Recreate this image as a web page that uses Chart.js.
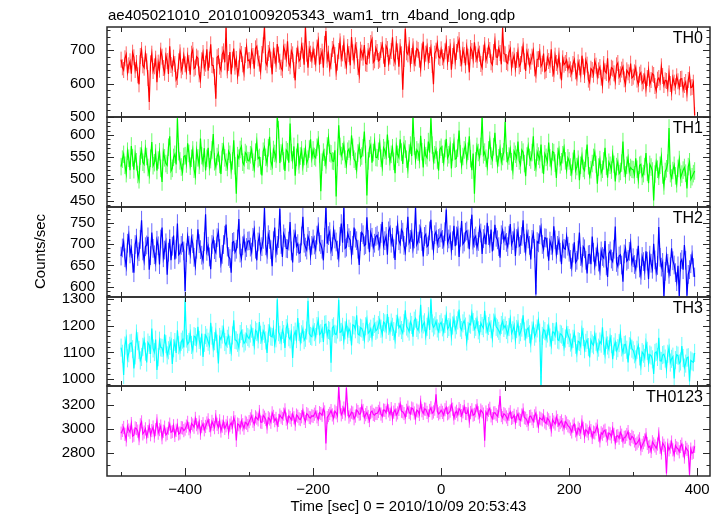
<!DOCTYPE html>
<html>
<head>
<meta charset="utf-8">
<script src="https://cdn.jsdelivr.net/npm/chart.js@4.4.0/dist/chart.umd.min.js"></script>
<style>
  body { margin: 0; background: #fff; }
  #wrap { position: relative; width: 723px; height: 516px; overflow: hidden; background: #fff; }
  #wrap canvas { position: absolute; left: 0; }
</style>
</head>
<body>
<div id="wrap"></div>
<script>
// light curve, 2 s bins starting at t = -500 s
const tStart = -500, tBin = 2;

const th0 = [
  672,649, 641,676, 688,634, 655,667, 630,693, 679,641, 662,625, 598,683, 701,655, 648,690, 667,617, 545,661, 690,638, 652,675, 604,663, 642,699, 681,647, 633,684, 668,629, 712,656, 645,678, 659,612, 620,667, 694,640, 651,684,
  658,637, 684,662, 627,690, 701,645, 649,681, 676,628, 611,670, 692,647, 660,703, 639,672, 718,656, 654,620, 555,679, 683,651, 641,688, 697,664, 768,640, 662,695, 628,672, 705,651, 674,623, 646,699, 689,658, 633,686, 711,669,
  671,652, 698,683, 645,706, 712,676, 660,637, 689,715, 772,664, 655,692, 703,672, 628,701, 684,659, 719,687, 666,648, 641,709, 696,675, 727,662, 652,698, 688,641, 610,684, 705,668, 674,715, 699,657, 771,690, 648,704, 690,671,
  702,681, 661,708, 729,657, 683,696, 648,719, 758,672, 690,645, 667,704, 714,686, 635,663, 698,727, 675,691, 721,669, 652,710, 689,655, 740,694, 668,715, 701,650, 626,702, 693,678, 716,661, 659,698, 684,722, 733,664, 670,707,
  695,668, 672,701, 718,684, 650,713, 704,662, 681,698, 739,676, 664,719, 697,651, 710,688, 582,674, 765,694, 688,716, 659,683, 712,661, 676,705, 701,672, 645,697, 726,664, 690,711, 668,686, 707,656, 598,690, 699,720, 681,677,
  703,679, 668,697, 721,665, 689,710, 642,683, 712,667, 695,718, 731,676, 660,702, 686,655, 709,681, 634,707, 698,672, 724,688, 671,702, 690,659, 648,693, 716,671, 684,712, 701,664, 657,695, 727,680, 679,706, 692,658, 768,690,
  688,665, 661,693, 704,648, 672,684, 645,671, 697,652, 659,688, 713,667, 638,696, 681,654, 666,681, 699,646, 627,673, 674,695, 652,660, 690,637, 641,679, 668,656, 703,645, 629,684, 662,651, 684,639, 610,676, 657,662, 671,643,
  655,643, 631,659, 672,637, 618,664, 649,628, 684,651, 626,670, 657,612, 603,645, 641,627, 668,654, 622,640, 650,618, 595,659, 637,632, 676,609, 619,648, 645,631, 607,655, 662,620, 628,642, 651,613, 598,640, 634,625, 660,617,
  621,634, 648,612, 598,627, 633,601, 607,624, 585,617, 642,598, 611,630, 626,593, 579,612, 617,604, 652,623, 596,610, 608,586, 631,599, 574,618, 603,592, 622,607, 589,614, 615,582, 596,605, 571,611, 628,588, 590,603, 505
];
const th1 = [
  528,545, 556,531, 512,563, 547,520, 575,548, 521,557, 539,510, 498,552, 566,538, 533,569, 551,526, 509,547, 584,530, 537,559, 519,543, 562,524, 493,561, 548,535, 531,572, 597,518, 524,549, 556,533, 638,562, 541,527, 515,551,
  553,534, 581,558, 529,547, 566,522, 507,565, 548,531, 592,553, 536,570, 519,547, 571,528, 544,566, 602,539, 527,551, 559,533, 511,562, 576,548, 538,526, 563,556, 520,541, 588,530, 466,553, 547,567, 574,538, 532,560, 556,542,
  541,555, 567,538, 523,561, 584,546, 549,530, 508,563, 572,549, 535,571, 596,540, 529,567, 558,545, 641,612, 536,559, 574,541, 518,566, 562,537, 626,560, 543,574, 507,549, 581,532, 552,566, 529,551, 569,536, 545,568, 590,547,
  566,551, 548,572, 589,557, 472,538, 561,549, 532,575, 594,559, 557,541, 540,565, 460,549, 622,574, 553,562, 578,545, 531,563, 568,551, 599,572, 545,540, 521,559, 576,548, 552,571, 608,556, 462,541, 569,577, 537,560, 584,549,
  548,563, 582,547, 527,571, 565,552, 601,568, 539,556, 571,540, 513,574, 556,549, 590,561, 534,578, 568,545, 522,559, 577,552, 640,575, 543,566, 561,544, 598,562, 526,571, 553,548, 585,560, 638,577, 541,555, 566,543, 519,567,
  572,556, 538,569, 591,548, 555,575, 524,561, 583,545, 547,570, 610,557, 531,551, 566,576, 542,563, 597,546, 520,558, 466,541, 574,560, 549,574, 642,555, 561,547, 528,566, 588,552, 544,573, 605,559, 533,548, 569,539, 551,562,
  630,558, 541,552, 568,539, 519,563, 556,547, 585,541, 532,566, 561,535, 506,552, 574,549, 543,560, 597,538, 525,561, 552,544, 578,533, 511,557, 549,539, 583,548, 528,562, 560,536, 502,551, 566,532, 539,555, 571,541, 520,548,
  541,527, 513,540, 566,519, 528,545, 497,531, 552,524, 519,547, 578,530, 507,521, 535,549, 561,533, 489,527, 544,514, 522,541, 571,529, 503,538, 531,520, 556,533, 494,528, 539,512, 517,536, 585,524, 509,531, 548,516, 526,522,
  521,509, 547,522, 498,531, 533,506, 512,528, 559,515, 490,533, 527,518, 451,511, 538,522, 506,531, 551,509, 484,517, 523,536, 616,512, 502,519, 531,507, 489,524, 544,503, 511,520, 526,513, 478,528, 539,499, 505,512, 518
];
const th2 = [
  672,691, 705,668, 648,702, 721,677, 690,655, 633,699, 714,671, 682,711, 756,684, 661,694, 698,717, 640,673, 727,690, 675,658, 709,696, 652,712, 739,668, 686,703, 628,681, 712,662, 695,720, 664,688, 748,675, 679,697, 703,684,
  590,680, 718,697, 676,714, 701,669, 649,688, 735,701, 687,674, 662,706, 770,683, 695,670, 641,699, 712,687, 680,715, 728,690, 655,676, 699,721, 746,693, 671,666, 633,704, 706,681, 688,712, 759,679, 667,696, 714,684, 692,707,
  708,693, 681,716, 733,688, 662,705, 719,682, 694,711, 785,696, 676,722, 711,687, 648,708, 739,679, 697,713, 783,699, 670,724, 715,690, 689,707, 752,684, 657,712, 726,695, 701,678, 680,719, 764,702, 693,686, 718,709, 673,697,
  712,698, 687,721, 741,705, 699,688, 662,716, 788,701, 720,729, 684,694, 733,712, 705,686, 668,718, 748,703, 786,690, 693,725, 715,709, 674,697, 739,714, 708,688, 651,706, 727,722, 696,699, 763,711, 681,727, 716,692, 702,718,
  721,707, 694,725, 752,696, 708,718, 675,731, 739,702, 716,689, 663,721, 745,708, 700,734, 728,697, 682,716, 764,703, 711,727, 690,712, 788,699, 707,724, 736,706, 671,718, 723,694, 698,731, 757,709, 685,722, 729,701, 713,715,
  726,711, 698,729, 781,703, 712,722, 685,708, 743,695, 719,733, 670,716, 754,700, 705,728, 731,712, 688,737, 769,698, 714,719, 692,706, 738,726, 677,713, 722,699, 750,720, 701,734, 683,707, 745,716, 710,694, 668,722, 733,708,
  719,704, 694,721, 747,699, 708,727, 672,713, 731,695, 699,718, 756,702, 683,726, 712,697, 664,711, 725,690, 582,706, 703,722, 739,699, 688,715, 714,693, 661,707, 697,684, 742,710, 676,697, 709,681, 653,702, 690,688, 718,695,
  681,664, 646,679, 704,657, 662,686, 727,671, 655,694, 689,662, 631,675, 676,653, 718,681, 649,670, 693,658, 638,684, 671,667, 707,649, 623,678, 684,665, 659,688, 741,657, 648,672, 675,651, 612,677, 690,660, 664,683, 702,656,
  668,652, 641,667, 696,644, 627,671, 659,638, 683,660, 618,674, 655,641, 701,663, 634,650, 740,669, 646,657, 578,636, 672,655, 629,647, 690,661, 651,633, 612,649, 577,658, 664,640, 698,662, 579,629, 640,654, 675,645, 623
];
const th3 = [
  1118,1095, 1015,1126, 1152,1078, 1097,1134, 1136,1112, 1040,1089, 1171,1142, 1109,1070, 1083,1121, 1146,1103, 1062,1137, 1128,1094, 1190,1115, 1101,1148, 1034,1082, 1144,1119, 1117,1096, 1168,1131, 1089,1108, 1125,1143, 1057,1116, 1139,1098, 1183,1127, 1106,1140, 1148,1119,
  1296,1152, 1131,1139, 1172,1128, 1109,1161, 1158,1134, 1196,1147, 1122,1171, 1083,1136, 1165,1155, 1140,1126, 1211,1163, 1116,1142, 1177,1133, 1059,1158, 1149,1167, 1190,1139, 1127,1151, 1163,1128, 1102,1164, 1221,1147, 1145,1136, 1118,1169, 1180,1153, 1134,1141, 1168,1158,
  1152,1171, 1189,1158, 1126,1183, 1177,1149, 1214,1166, 1143,1181, 1170,1145, 1098,1172, 1196,1160, 1158,1187, 1131,1153, 1299,1176, 1166,1142, 1184,1169, 1117,1191, 1205,1157, 1149,1173, 1079,1164, 1178,1150, 1229,1177, 1140,1168, 1187,1146, 1155,1182, 1294,1171, 1162,1159,
  1194,1176, 1158,1199, 1221,1167, 1172,1188, 1139,1204, 1206,1163, 1184,1181, 1061,1192, 1198,1170, 1167,1186, 1298,1175, 1177,1196, 1145,1183, 1213,1166, 1189,1178, 1126,1203, 1201,1187, 1239,1169, 1165,1193, 1190,1177, 1148,1198, 1224,1172, 1178,1189, 1155,1196, 1207,1181,
  1186,1203, 1221,1189, 1168,1214, 1209,1185, 1244,1199, 1177,1212, 1196,1180, 1148,1207, 1232,1193, 1201,1184, 1173,1210, 1258,1197, 1190,1178, 1215,1203, 1159,1219, 1227,1192, 1183,1205, 1279,1187, 1205,1213, 1162,1196, 1236,1184, 1299,1209, 1194,1201, 1217,1190, 1178,1206,
  1213,1194, 1176,1207, 1239,1188, 1195,1215, 1160,1201, 1228,1186, 1202,1220, 1261,1193, 1184,1209, 1219,1197, 1141,1181, 1208,1204, 1247,1214, 1187,1196, 1223,1183, 1169,1210, 1199,1191, 1256,1205, 1178,1199, 1211,1187, 1153,1212, 1234,1196, 1190,1181, 1170,1203, 1216,1192,
  1201,1184, 1168,1195, 1226,1172, 1183,1201, 1147,1188, 1210,1166, 1176,1193, 1239,1179, 1155,1186, 1192,1168, 1134,1182, 1205,1159, 1171,1190, 1219,1174, 978,1162, 1186,1180, 1152,1171, 1198,1156, 1127,1177, 1176,1163, 1213,1148, 1145,1170, 1167,1158, 1120,1152, 1189,1165,
  1154,1137, 1118,1151, 1173,1129, 1097,1142, 1139,1124, 1186,1158, 1112,1136, 1147,1120, 1081,1146, 1133,1127, 1168,1140, 1103,1118, 1141,1133, 1194,1125, 1092,1147, 1126,1112, 1157,1131, 1075,1122, 1138,1106, 1116,1135, 1171,1119, 1099,1128, 1130,1110, 1062,1123, 1145,1114,
  1108,1093, 1074,1110, 1126,1085, 1049,1101, 1095,1079, 1137,1106, 1061,1092, 1088,1074, 1019,1098, 1102,1083, 1155,1069, 1068,1090, 1093,1077, 1037,1095, 1118,1062, 1076,1084, 1002,1071, 1091,1088, 1059,1066, 1124,1079, 1043,1058, 1080,1082, 991,1070, 1066,1063, 1098
];
const th0123 = [
  2968,2991, 3015,2958, 2912,3024, 2994,2976, 3048,2943, 2951,3012, 3006,2985, 2923,3037, 3062,2962, 2977,3004, 2936,2981, 3029,2955, 2989,3019, 2944,2997, 3071,2968, 2998,3027, 2930,2984, 3018,2953, 2965,3009, 3043,2975, 2982,3030, 2949,2992, 3033,2961, 2970,3014, 3011,2989,
  3002,3027, 3058,3005, 2979,3049, 3036,3018, 3091,3039, 3011,3061, 2968,3022, 3047,2996, 3024,3053, 3079,3031, 2993,3066, 3040,3014, 3106,3042, 3015,3071, 2986,3026, 3062,3008, 3029,3057, 2974,3035, 3054,3019, 3097,3063, 2908,3044, 3038,3012, 3070,3038, 3009,3059, 3051,3032,
  3064,3087, 3112,3068, 3041,3104, 3093,3079, 3148,3061, 3058,3116, 3101,3083, 3019,3097, 3086,3059, 3137,3108, 3072,3091, 3035,3074, 3119,3102, 3090,3126, 3162,3085, 3054,3111, 3098,3077, 3127,3096, 3043,3119, 3109,3088, 3081,3105, 3155,3092, 3066,3131, 3121,3099, 3095,3113,
  3108,3126, 3147,3104, 3082,3139, 3131,3117, 3169,3145, 2882,3098, 3115,3132, 3156,3120, 3094,3151, 3138,3113, 3354,3186, 3121,3142, 3177,3127, 3346,3164, 3102,3119, 3143,3136, 3088,3110, 3161,3148, 3126,3129, 3195,3157, 3098,3122, 3140,3107, 3073,3141, 3152,3124, 3117,3133,
  3132,3149, 3176,3127, 3109,3161, 3158,3138, 3201,3154, 3125,3172, 3089,3143, 3164,3119, 3137,3166, 3212,3151, 3146,3131, 3101,3158, 3185,3142, 3129,3177, 3170,3136, 3094,3160, 3151,3124, 3226,3155, 3133,3169, 3167,3141, 3112,3157, 3180,3134, 3145,3168, 3292,3150, 3128,3139,
  3159,3141, 3118,3163, 3184,3129, 3137,3152, 3205,3168, 3093,3135, 3150,3121, 3172,3157, 3114,3146, 3190,3133, 3131,3166, 3068,3140, 3163,3118, 3125,3154, 3197,3137, 3104,3160, 3146,3127, 2906,3144, 3122,3158, 3175,3112, 3089,3136, 3138,3123, 3109,3149, 3278,3115, 3097,3130,
  3121,3103, 3082,3125, 3146,3091, 3098,3117, 3057,3108, 3129,3084, 3074,3119, 3161,3097, 3092,3073, 3043,3106, 3110,3088, 3066,3112, 3135,3069, 3025,3095, 3087,3078, 3113,3061, 3048,3092, 3079,3058, 2994,3081, 3061,3044, 3102,3073, 3033,3056, 3070,3039, 3011,3065, 3052,3030,
  3021,3002, 2978,3027, 3043,2987, 2956,3011, 2999,2974, 3062,3009, 2941,2996, 2985,2963, 3017,2989, 2932,2977, 2970,3001, 3028,2952, 2904,2971, 2959,2984, 2993,2946, 2918,2969, 2962,2937, 3006,2958, 2889,2943, 2947,2926, 2975,2951, 2902,2933, 2936,2957, 2981,2921, 2914,2942,
  2931,2903, 2874,2885, 2902,2921, 2838,2867, 2889,2911, 2955,2882, 2851,2859, 2816,2896, 2878,2861, 2842,2877, 2962,2850, 2803,2886, 2867,2843, 2632,2868, 2829,2852, 2894,2829, 2788,2865, 2846,2838, 2812,2857, 2877,2821, 2769,2849, 2833,2816, 2622,2835, 2801,2809, 2858
];

const series = [th0, th1, th2, th3, th0123];
const bandNames = ['TH0', 'TH1', 'TH2', 'TH3', 'TH0123'];
const bandColors = ['#ff0000', '#00ff00', '#0000ff', '#00ffff', '#ff00ff'];
const errColors = ['rgba(255,0,0,0.6)', 'rgba(0,255,0,0.6)', 'rgba(0,0,255,0.6)', 'rgba(0,255,255,0.6)', 'rgba(255,0,255,0.6)'];
const errSizes = [24, 20, 22, 34, 55];
const yRanges = [[500, 770], [436, 641], [576, 787], [974, 1308], [2611, 3361]];
const yTickValues = [[500, 600, 700], [450, 500, 550, 600], [600, 650, 700, 750], [1000, 1100, 1200, 1300], [2800, 3000, 3200]];
const yMinorStep = [20, 10, 10, 20, 100];
const xRange = [-522, 420];
const xTickValues = [-400, -200, 0, 200, 400];
const plotTitle = 'ae405021010_20101009205343_wam1_trn_4band_long.qdp';
const xTitle = 'Time [sec] 0 = 2010/10/09 20:53:43';
const yTitle = 'Counts/sec';

// panel geometry
const panelTop = [27, 117, 207, 297, 386];
const panelBottom = [117, 207, 297, 386, 476];
const W = 723, H = 516, plotLeft = 107, plotRight = 710, margin = 26;

const FONT = '"Liberation Sans", Arial, Helvetica, sans-serif';
Chart.defaults.font.family = FONT;
Chart.defaults.color = '#000';

const times = series[0].map((_, i) => tStart + tBin * i);

function framePlugin(k) {
    return {
        id: 'frame' + k,
        // error bars under the line
        beforeDatasetsDraw(chart) {
            const { ctx, chartArea: a, scales: { x, y } } = chart;
            ctx.save();
            ctx.beginPath();
            ctx.rect(a.left, a.top, a.right - a.left, a.bottom - a.top);
            ctx.clip();
            ctx.strokeStyle = errColors[k];
            ctx.lineWidth = 1;
            ctx.beginPath();
            series[k].forEach((v, i) => {
                const px = x.getPixelForValue(times[i]);
                ctx.moveTo(px, y.getPixelForValue(v + errSizes[k]));
                ctx.lineTo(px, y.getPixelForValue(v - errSizes[k]));
            });
            ctx.stroke();
            ctx.restore();
        },
        afterDraw(chart) {
            const { ctx, chartArea: a, scales: { x, y } } = chart;
            const L = a.left, R = a.right, T = a.top, B = a.bottom;
            ctx.save();
            ctx.strokeStyle = '#2a2a2a';
            ctx.lineWidth = 1;
            ctx.beginPath();
            // time ticks, inward
            for (let v = -500; v <= 400; v += 100) {
                const px = Math.round(x.getPixelForValue(v)) + 0.5;
                const big = v % 200 === 0;
                ctx.moveTo(px, T); ctx.lineTo(px, T + 5);
                const lb = k === 4 ? (big ? 8 : 4) : 5;
                ctx.moveTo(px, B); ctx.lineTo(px, B - lb);
            }
            // rate ticks, both sides
            const [lo, hi] = yRanges[k], step = yMinorStep[k];
            for (let v = Math.ceil(lo / step) * step; v <= hi; v += step) {
                const py = Math.round(y.getPixelForValue(v)) + 0.5;
                const len = yTickValues[k].includes(v) ? 7 : 3.5;
                ctx.moveTo(L, py); ctx.lineTo(L + len, py);
                ctx.moveTo(R, py); ctx.lineTo(R - len, py);
            }
            ctx.stroke();
            ctx.lineWidth = 1.5;
            ctx.strokeRect(L, T, R - L, B - T);

            ctx.fillStyle = '#000';
            ctx.font = '16px ' + FONT;
            ctx.textAlign = 'right';
            ctx.textBaseline = 'alphabetic';
            ctx.fillText(bandNames[k], 703, T + 16);

            if (k === 0) {
                ctx.font = '15px ' + FONT;
                ctx.textAlign = 'left';
                ctx.fillText(plotTitle, 108, 20);
            }
            if (k === 2) {
                ctx.font = '15px ' + FONT;
                ctx.translate(45, (panelTop[0] + panelBottom[4]) / 2 - chart.canvas.offsetTop);
                ctx.rotate(-Math.PI / 2);
                ctx.textAlign = 'center';
                ctx.fillText(yTitle, 0, 0);
            }
            ctx.restore();
        }
    };
}

const wrap = document.getElementById('wrap');
const charts = [];

series.forEach((vals, k) => {
    const last = k === series.length - 1;
    const top = k === 0 ? 0 : panelTop[k] - margin;
    const bottom = last ? H : panelBottom[k] + margin;
    const canvas = document.createElement('canvas');
    canvas.width = W;
    canvas.height = bottom - top;
    canvas.style.top = top + 'px';
    wrap.appendChild(canvas);

    charts.push(new Chart(canvas.getContext('2d'), {
        type: 'line',
        data: {
            datasets: [{
                label: bandNames[k],
                data: vals.map((v, i) => ({ x: times[i], y: v })),
                borderColor: bandColors[k],
                borderWidth: 1.2,
                pointRadius: 0,
                tension: 0,
                fill: false
            }]
        },
        options: {
            responsive: false,
            animation: false,
            events: [],
            layout: {
                padding: { top: panelTop[k] - top, bottom: last ? 0 : margin, left: 0, right: W - plotRight }
            },
            plugins: {
                legend: { display: false },
                tooltip: { enabled: false }
            },
            scales: {
                x: {
                    type: 'linear',
                    display: last,
                    min: xRange[0],
                    max: xRange[1],
                    grid: { display: false, drawTicks: false },
                    border: { display: false },
                    ticks: {
                        stepSize: 100,
                        autoSkip: false,
                        includeBounds: false,
                        maxRotation: 0,
                        padding: 5,
                        font: { size: 15 },
                        callback: v => xTickValues.includes(v) ? String(v).replace('-', '\u2212') : ''
                    },
                    title: {
                        display: true,
                        text: xTitle,
                        font: { size: 15 },
                        padding: { top: 0, bottom: 0 }
                    },
                    afterFit: s => { if (last) s.height = H - panelBottom[k]; }
                },
                y: {
                    type: 'linear',
                    min: yRanges[k][0],
                    max: yRanges[k][1],
                    grid: { display: false, drawTicks: false },
                    border: { display: false },
                    ticks: { padding: 12, font: { size: 15 }, callback: v => String(v) },
                    afterBuildTicks: s => { s.ticks = yTickValues[k].map(v => ({ value: v })); },
                    afterFit: s => { s.width = plotLeft; }
                }
            }
        },
        plugins: [framePlugin(k)]
    }));
});
</script>
</body>
</html>
